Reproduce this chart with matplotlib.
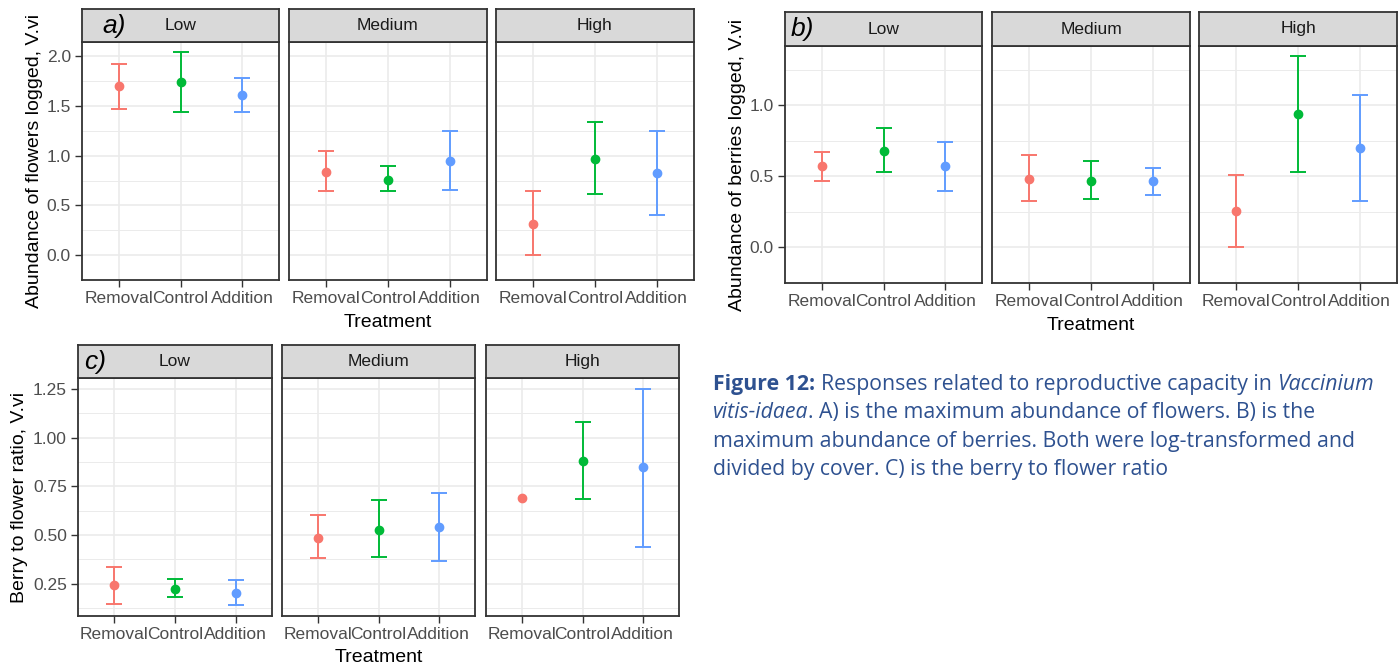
import matplotlib
matplotlib.use("Agg")
import matplotlib.pyplot as plt
import numpy as np

W, H = 1400, 667

treatments = ["Removal", "Control", "Addition"]
levels = ["Low", "Medium", "High"]
colours = ["#F8766D", "#00BA38", "#619CFF"]

# rows = facet (Low, Medium, High), columns = treatment
flowers_mean = [[1.70, 1.74, 1.61], [0.84, 0.76, 0.95], [0.31, 0.97, 0.83]]
flowers_lo = [[1.47, 1.44, 1.44], [0.64, 0.64, 0.65], [0.00, 0.61, 0.40]]
flowers_hi = [[1.92, 2.04, 1.78], [1.05, 0.90, 1.25], [0.64, 1.34, 1.25]]

berries_mean = [[0.57, 0.68, 0.57], [0.48, 0.47, 0.47], [0.26, 0.94, 0.70]]
berries_lo = [[0.47, 0.53, 0.40], [0.33, 0.34, 0.37], [0.00, 0.53, 0.33]]
berries_hi = [[0.67, 0.84, 0.74], [0.65, 0.61, 0.56], [0.51, 1.35, 1.07]]

ratio_mean = [[0.243, 0.223, 0.201], [0.486, 0.527, 0.543], [0.69, 0.88, 0.85]]
ratio_lo = [[0.143, 0.181, 0.139], [0.380, 0.388, 0.368], [np.nan, 0.685, 0.44]]
ratio_hi = [[0.336, 0.272, 0.266], [0.600, 0.679, 0.715], [np.nan, 1.08, 1.25]]

flowers_ticks = [0.0, 0.5, 1.0, 1.5, 2.0]
berries_ticks = [0.0, 0.5, 1.0]
ratio_ticks = [0.25, 0.50, 0.75, 1.00, 1.25]

plt.rcParams["font.family"] = ["Liberation Sans", "DejaVu Sans"]

fig = plt.figure(figsize=(W / 100, H / 100), dpi=100)


def px_axes(x0, y0, x1, y1):
    return fig.add_axes([x0 / W, 1 - y1 / H, (x1 - x0) / W, (y1 - y0) / H])


def draw_block(tag, tag_dx, facets_x, strip_top, strip_bot, panel_bot,
               means, lo, hi, yticks, yfmt, ylabel, ylabel_x, title_y):
    vals = np.array([means, lo, hi], dtype=float)
    vmin, vmax = np.nanmin(vals), np.nanmax(vals)
    pad = 0.05 * (vmax - vmin)
    step = yticks[1] - yticks[0]
    minor = np.arange(yticks[0] - step / 2, vmax + pad, step)

    for i, (x0, x1) in enumerate(facets_x):
        ax = px_axes(x0, strip_bot, x1, panel_bot)
        ax.set_xlim(0.4, 3.6)
        ax.set_ylim(vmin - pad, vmax + pad)
        ax.set_yticks(yticks)
        ax.set_yticks(minor, minor=True)
        ax.set_yticklabels([yfmt.format(t) for t in yticks])
        ax.set_xticks([1, 2, 3])
        ax.set_xticklabels(treatments)
        ax.grid(which="major", color="#EBEBEB", lw=1.2)
        ax.grid(which="minor", axis="y", color="#EBEBEB", lw=0.7)
        ax.set_axisbelow(True)
        ax.tick_params(which="major", length=5, width=1, color="#333333",
                       labelsize=12.5, labelcolor="#4D4D4D", pad=3)
        ax.tick_params(which="minor", length=0)
        if i > 0:
            ax.tick_params(axis="y", length=0, labelleft=False)
        for s in ax.spines.values():
            s.set_color("#333333")
            s.set_linewidth(1.3)

        for j in range(3):
            m, l, h = means[i][j], lo[i][j], hi[i][j]
            if np.isnan(l):
                ax.plot(j + 1, m, "o", color=colours[j], ms=6, zorder=3)
            else:
                ax.errorbar(j + 1, m, yerr=[[m - l], [h - m]], fmt="o",
                            color=colours[j], ms=6, capsize=6,
                            elinewidth=1.4, capthick=1.4, zorder=3)

        sax = px_axes(x0, strip_top, x1, strip_bot)
        sax.set_facecolor("#D9D9D9")
        sax.set_xticks([])
        sax.set_yticks([])
        for s in sax.spines.values():
            s.set_color("#333333")
            s.set_linewidth(1.3)
        sax.text(0.5, 0.5, levels[i], ha="center", va="center",
                 fontsize=12.5, color="#1A1A1A", transform=sax.transAxes)
        if i == 0:
            sax.text(tag_dx / (x1 - x0), 0.5, tag, ha="left", va="center",
                     fontsize=19, style="italic", color="black",
                     transform=sax.transAxes)

    mid_y = (strip_bot + panel_bot) / 2
    fig.text(ylabel_x / W, 1 - mid_y / H, ylabel, rotation=90,
             ha="center", va="center", fontsize=14, color="black")
    mid_x = (facets_x[0][0] + facets_x[-1][1]) / 2
    fig.text(mid_x / W, 1 - title_y / H, "Treatment", ha="center",
             va="center", fontsize=14, color="black")


draw_block("a)", 20, [(82, 279), (289, 487), (496, 694)], 9, 42, 280,
           flowers_mean, flowers_lo, flowers_hi, flowers_ticks, "{:.1f}",
           "Abundance of flowers logged, V.vi", 35, 322)

draw_block("b)", 6, [(785, 982), (992, 1190), (1199, 1397)], 12, 46, 283,
           berries_mean, berries_lo, berries_hi, berries_ticks, "{:.1f}",
           "Abundance of berries logged, V.vi", 738, 325)

draw_block("c)", 6, [(78, 272), (282, 475), (486, 679)], 345, 378, 616,
           ratio_mean, ratio_lo, ratio_hi, ratio_ticks, "{:.2f}",
           "Berry to flower ratio, V.vi", 20, 658)

# caption with mixed bold / italic pieces
cap_col = "#2E5190"
cap_font = ["Open Sans", "DejaVu Sans"]
renderer = fig.canvas.get_renderer()

caption = [
    [("Figure 12:", "bold", "normal"), (" ", None, None),
     ("Responses related to reproductive capacity in", "normal", "normal"),
     (" ", None, None), ("Vaccinium", "normal", "italic")],
    [("vitis-idaea", "normal", "italic"),
     (". A) is the maximum abundance of flowers. B) is the", "normal", "normal")],
    [("maximum abundance of berries. Both were log-transformed and", "normal", "normal")],
    [("divided by cover. C) is the berry to flower ratio", "normal", "normal")],
]


def seg_width(txt, size, weight="normal", style="normal"):
    t = fig.text(0, 0, txt, fontsize=size, family=cap_font,
                 fontweight=weight, style=style)
    w = t.get_window_extent(renderer).width
    t.remove()
    return w


def line_width(line, size):
    sp = seg_width("a b", size) - seg_width("ab", size)
    total = 0
    for txt, weight, style in line:
        total += sp if weight is None else seg_width(txt, size, weight, style)
    return total


# fit the first line to the width it has in the reference (~659 px)
cap_size = 10 * 659 / line_width(caption[0], 10)
space = seg_width("a b", cap_size) - seg_width("ab", cap_size)

for k, line in enumerate(caption):
    x = 713
    y = 390 + k * 28.4
    for txt, weight, style in line:
        if weight is None:
            x += space
            continue
        t = fig.text(x / W, 1 - y / H, txt, fontsize=cap_size, family=cap_font,
                     fontweight=weight, style=style, color=cap_col,
                     ha="left", va="baseline")
        x += t.get_window_extent(renderer).width

fig.savefig("out.png", dpi=100)
